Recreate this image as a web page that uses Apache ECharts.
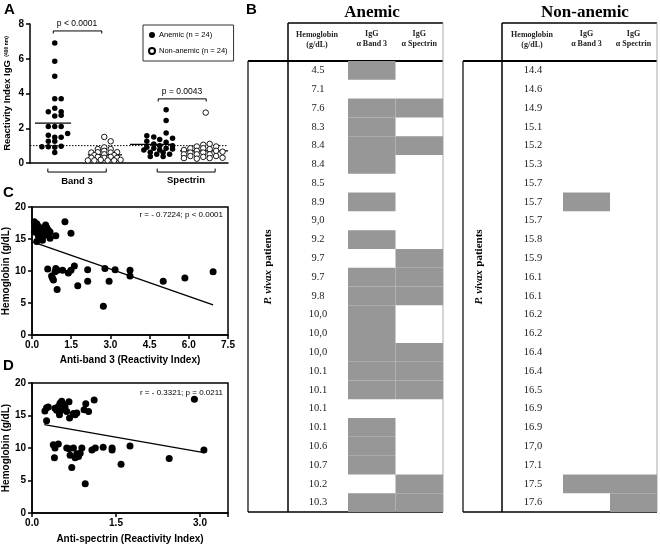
<!DOCTYPE html>
<html>
<head>
<meta charset="utf-8">
<script src="https://cdn.jsdelivr.net/npm/echarts@6/dist/echarts.min.js"></script>
<style>html,body{margin:0;padding:0;background:#fff}#main{width:660px;height:545px}</style>
</head>
<body>
<div id="main"></div>
<script>
// panel A - reactivity index, [jitter position, value]
var band3Anemic = [[0.5,6.9],[0.5,5.85],[0.5,5.0],[0.5,3.7],[0.63,3.7],[0.37,2.95],[0.5,3.15],[0.63,2.95],[0.5,2.7],[0.63,2.75],
  [0.37,2.1],[0.5,2.1],[0.63,2.1],[0.37,1.6],[0.5,1.48],[0.76,1.7],[0.63,1.48],[0.37,1.25],[0.5,1.25],
  [0.24,0.94],[0.37,0.94],[0.5,0.9],[0.63,0.96],[0.5,0.6]];
var band3NonAnemic = [[1.5,1.5],[1.63,1.25],[1.5,0.9],[1.37,0.8],[1.63,0.8],[1.5,0.7],[1.24,0.6],[1.37,0.62],[1.63,0.6],[1.76,0.62],
  [1.5,0.5],[1.3,0.45],[1.7,0.45],[1.24,0.3],[1.37,0.35],[1.5,0.3],[1.63,0.35],[1.76,0.3],[1.17,0.15],[1.3,0.15],
  [1.43,0.18],[1.57,0.15],[1.7,0.15],[1.83,0.18]];
var spectrinAnemic = [[2.75,3.06],[2.75,2.45],[2.75,1.72],[2.36,1.57],[2.5,1.5],[2.88,1.42],[2.62,1.35],[2.36,1.25],[2.75,1.2],[2.5,1.1],
  [2.62,1.0],[2.88,1.0],[2.36,0.9],[2.5,0.85],[2.75,0.85],[2.3,0.75],[2.62,0.75],[2.88,0.8],[2.43,0.62],[2.69,0.6],
  [2.56,0.5],[2.82,0.5],[2.43,0.38],[2.69,0.38]];
var spectrinNonAnemic = [[3.55,2.9],[3.63,1.1],[3.5,1.05],[3.37,0.95],[3.76,0.95],[3.24,0.85],[3.5,0.85],[3.63,0.8],[3.11,0.75],[3.37,0.7],
  [3.76,0.7],[3.24,0.6],[3.5,0.6],[3.89,0.65],[3.11,0.5],[3.37,0.5],[3.63,0.5],[3.24,0.4],[3.5,0.35],[3.76,0.4],
  [3.11,0.28],[3.37,0.25],[3.63,0.28],[3.89,0.3]];
// mean bars: [from, to, value]
var meanBars = [[0.1,0.83,2.3],[1.17,1.86,0.47],[2.02,2.89,1.07],[3.03,4.0,0.7]];
var cutoff = 1.0;
var groupNames = ['Band 3', 'Spectrin'];
var pValues = ['p < 0.0001', 'p = 0.0043'];

// panel C - Hb vs anti-band 3
var band3HbNonAnemic = [[0.09,17.7],[0.18,17.4],[0.12,16.9],[0.24,17.0],[0.31,16.7],[0.18,16.4],[0.37,16.1],[0.31,15.9],[0.43,16.4],[0.52,17.2],
  [0.47,16.8],[0.62,16.4],[0.69,16.1],[0.34,15.4],[0.69,15.1],[0.91,15.5],[0.18,14.6],[1.26,17.7],[1.49,15.9],[0.24,15.5],
  [0.40,14.8],[0.50,15.6],[0.09,16.1],[0.56,16.8]];
var band3HbAnemic = [[0.60,10.3],[0.75,9.2],[0.82,8.6],[0.91,10.4],[0.97,10.1],[0.88,9.9],[0.96,7.1],[1.17,10.1],[1.39,9.7],[1.49,10.1],
  [1.62,10.8],[1.75,7.7],[2.13,10.2],[2.13,8.4],[2.73,4.5],[2.79,10.4],[2.95,8.4],[3.18,10.2],[3.75,10.1],[3.75,9.2],
  [5.02,8.4],[5.85,8.9],[6.93,9.9],[0.78,8.9]];
var band3Fit = [[0.05,14.5],[6.93,4.7]];
var band3Stat = 'r = - 0.7224; p < 0.0001';

// panel D - Hb vs anti-spectrin
var spectrinHbNonAnemic = [[0.23,15.7],[0.26,16.2],[0.29,16.3],[0.26,14.2],[0.41,16.1],[0.44,15.8],[0.47,16.4],[0.50,16.9],[0.53,17.2],[0.56,16.7],
  [0.59,16.3],[0.54,15.9],[0.49,15.1],[0.62,15.6],[0.66,17.1],[0.67,14.6],[0.77,15.1],[0.80,15.4],[0.93,15.9],[0.96,16.8],
  [1.01,15.6],[1.11,17.4],[0.74,15.3],[2.90,17.5]];
var spectrinHbAnemic = [[0.38,10.5],[0.41,10.0],[0.47,10.6],[0.40,8.5],[0.66,9.9],[0.74,10.0],[0.68,8.9],[0.71,7.0],[0.77,8.5],[0.80,9.1],
  [0.83,8.7],[0.89,10.0],[0.95,4.5],[1.07,9.7],[1.13,10.0],[1.27,10.1],[1.43,10.0],[1.43,9.7],[1.59,7.5],[1.75,10.3],
  [2.45,8.4],[3.07,9.7],[0.86,9.2],[0.62,10.0]];
var spectrinFit = [[0.22,13.6],[3.07,9.3]];
var spectrinStat = 'r = - 0.3321; p = 0.0211';

// panel B - tables
var tableCols = ['IgG\nα Band 3', 'IgG\nα Spectrin'];
var anemicHb = ['4.5','7.1','7.6','8.3','8.4','8.4','8.5','8.9','9,0','9.2','9.7','9.7','9.8','10,0','10,0','10,0','10.1','10.1','10.1','10.1','10.6','10.7','10.2','10.3'];
var anemicBand3 = [1,0,1,1,1,1,0,1,0,1,0,1,1,1,1,1,1,1,0,1,1,1,0,1];
var anemicSpectrin = [0,0,1,0,1,0,0,0,0,0,1,1,1,0,0,1,1,1,0,0,0,0,1,1];
var nonAnemicHb = ['14.4','14.6','14.9','15.1','15.2','15.3','15.7','15.7','15.7','15.8','15.9','16.1','16.1','16.2','16.2','16.4','16.4','16.5','16.9','16.9','17,0','17.1','17.5','17.6'];
var nonAnemicBand3 = [0,0,0,0,0,0,0,1,0,0,0,0,0,0,0,0,0,0,0,0,0,0,1,0];
var nonAnemicSpectrin = [0,0,0,0,0,0,0,0,0,0,0,0,0,0,0,0,0,0,0,0,0,0,1,1];

var SANS = '"Liberation Sans", Arial, sans-serif';
var SERIF = '"Liberation Serif", "Times New Roman", serif';
var NAME_A = 'Anemic (n = 24)', NAME_N = 'Non-anemic (n = 24)';

function cells(b3, sp) {
    var out = [];
    b3.forEach(function (v, i) { if (v) out.push([0, i]); });
    sp.forEach(function (v, i) { if (v) out.push([1, i]); });
    return out;
}

function cellRender(params, api) {
    var p = api.coord([api.value(0), api.value(1)]);
    var s = api.size([1, 1]);
    return {type: 'rect', shape: {x: p[0] - s[0] / 2, y: p[1] - s[1] / 2, width: s[0], height: s[1]},
        style: {fill: '#979797'}};
}

function valAxis(grid, min, max, interval, extra) {
    var a = {
        type: 'value', gridIndex: grid, min: min, max: max, interval: interval,
        axisLine: {show: true, lineStyle: {color: '#000', width: 1.5}},
        axisTick: {show: true, length: 4, lineStyle: {color: '#000', width: 1.5}},
        axisLabel: {color: '#000', fontFamily: SANS, fontWeight: 'bold', fontSize: 10, margin: 6},
        splitLine: {show: false}
    };
    for (var k in extra) a[k] = extra[k];
    return a;
}

function dots(name, data, x, y, hollow, size) {
    return {
        type: 'scatter', name: name, xAxisIndex: x, yAxisIndex: y, data: data,
        symbolSize: size, silent: true,
        itemStyle: hollow ? {color: '#fff', borderColor: '#000', borderWidth: 0.9, opacity: 1}
            : {color: '#000', opacity: 1}
    };
}

function seg(data, x, y, style, clip) {
    return {
        type: 'line', xAxisIndex: x, yAxisIndex: y, data: data, symbol: 'none', silent: true,
        clip: clip !== false, lineStyle: style, z: 1
    };
}

function tableAxes(grid, hb) {
    return {
        x: {type: 'category', gridIndex: grid, data: tableCols, position: 'top',
            axisLine: {show: false}, axisTick: {show: false},
            axisLabel: {fontFamily: SERIF, fontWeight: 'bold', fontSize: 8, color: '#222', lineHeight: 10, margin: 12}},
        y: {type: 'category', gridIndex: grid, data: hb, inverse: true,
            axisLine: {show: false}, axisTick: {show: false},
            axisLabel: {fontFamily: SERIF, fontSize: 10.5, color: '#222', margin: 30, align: 'center'}}
    };
}

var tA = tableAxes(3, anemicHb), tN = tableAxes(4, nonAnemicHb);
var noLabel = {show: false};

var series = [
    dots(NAME_A, band3Anemic, 0, 0, false, 5.5),
    dots(NAME_N, band3NonAnemic, 0, 0, true, 5.5),
    dots(NAME_A, spectrinAnemic, 0, 0, false, 5.5),
    dots(NAME_N, spectrinNonAnemic, 0, 0, true, 5.5),
    seg([[0, cutoff], [4, cutoff]], 0, 0, {color: '#000', width: 1, type: [1.5, 1.5]}),
    seg([[0.47, 7.45], [0.47, 7.6], [1.45, 7.6], [1.45, 7.45]], 0, 0, {color: '#000', width: 1}),
    seg([[2.59, 3.54], [2.59, 3.69], [3.56, 3.69], [3.56, 3.54]], 0, 0, {color: '#000', width: 1}),
    seg([[0.36, -0.32], [0.36, -0.52], [1.54, -0.52], [1.54, -0.32]], 0, 0, {color: '#000', width: 1}, false),
    seg([[2.57, -0.32], [2.57, -0.52], [3.74, -0.52], [3.74, -0.32]], 0, 0, {color: '#000', width: 1}, false),
    dots(NAME_A, band3HbNonAnemic, 1, 1, false, 7),
    dots(NAME_A, band3HbAnemic, 1, 1, false, 7),
    seg(band3Fit, 1, 1, {color: '#000', width: 1.3}),
    dots(NAME_A, spectrinHbNonAnemic, 2, 2, false, 7),
    dots(NAME_A, spectrinHbAnemic, 2, 2, false, 7),
    seg(spectrinFit, 2, 2, {color: '#000', width: 1.3}),
    {type: 'custom', xAxisIndex: 3, yAxisIndex: 3, renderItem: cellRender, data: cells(anemicBand3, anemicSpectrin), silent: true},
    {type: 'custom', xAxisIndex: 4, yAxisIndex: 4, renderItem: cellRender, data: cells(nonAnemicBand3, nonAnemicSpectrin), silent: true}
];
meanBars.forEach(function (m) {
    series.push(seg([[m[0], m[2]], [m[1], m[2]]], 0, 0, {color: '#000', width: 1.2}));
});

function txt(text, x, y, font, align, extra) {
    var g = {type: 'text', x: x, y: y, style: {text: text, font: font, fill: '#000',
        align: align || 'center', verticalAlign: 'middle'}, silent: true};
    for (var k in extra) g[k] = extra[k];
    return g;
}
function ln(x1, y1, x2, y2, w, c) {
    return {type: 'line', shape: {x1: x1, y1: y1, x2: x2, y2: y2}, style: {stroke: c || '#000', lineWidth: w}, silent: true};
}
function frame(l, i, r) {
    return [ln(i, 23, r, 23, 1.5), ln(i, 23, i, 512, 1.5), ln(l, 61, r, 61, 2), ln(l, 61, l, 512, 1.2),
        ln(l, 512, r, 512, 1.5), ln(r, 23, r, 512, 1, '#aaa')];
}
function vivax(x) {
    return {type: 'text', x: x, y: 267, rotation: Math.PI / 2, silent: true,
        style: {text: '{i|P. vivax} {b|patients}', align: 'center', verticalAlign: 'middle',
            rich: {i: {font: 'italic bold 11px ' + SERIF, fill: '#000'}, b: {font: 'bold 11px ' + SERIF, fill: '#000'}}}};
}

var graphics = [
    txt('A', 4, 10, 'bold 15px ' + SANS, 'left'),
    txt('B', 246, 10, 'bold 15px ' + SANS, 'left'),
    txt('C', 3, 193, 'bold 15px ' + SANS, 'left'),
    txt('D', 3, 366, 'bold 15px ' + SANS, 'left'),
    txt(pValues[0], 77, 24, '8.5px ' + SANS),
    txt(pValues[1], 182, 92, '8.5px ' + SANS),
    txt(groupNames[0], 77, 181, 'bold 9.5px ' + SANS),
    txt(groupNames[1], 186, 180, 'bold 9.5px ' + SANS),
    txt(band3Stat, 223, 215, '8px ' + SANS, 'right'),
    txt(spectrinStat, 223, 393, '8px ' + SANS, 'right'),
    txt('Anemic', 372, 13, 'bold 17px ' + SERIF),
    txt('Non-anemic', 585, 13, 'bold 17px ' + SERIF),
    txt('Hemoglobin\n(g/dL)', 317, 40, 'bold 8px ' + SERIF, 'center', {style: {text: 'Hemoglobin\n(g/dL)', font: 'bold 8px ' + SERIF, fill: '#222', align: 'center', verticalAlign: 'middle', lineHeight: 10}}),
    txt('Hemoglobin\n(g/dL)', 532, 40, 'bold 8px ' + SERIF, 'center', {style: {text: 'Hemoglobin\n(g/dL)', font: 'bold 8px ' + SERIF, fill: '#222', align: 'center', verticalAlign: 'middle', lineHeight: 10}}),
    vivax(268),
    vivax(479)
].concat(frame(248, 288, 443)).concat(frame(463, 502, 657));

var myChart = echarts.init(document.getElementById('main'), null, {renderer: 'canvas'});

var option = {
    backgroundColor: '#fff',
    animation: false,
    textStyle: {fontFamily: SANS},
    grid: [
        {left: 30, top: 24, width: 198, height: 139},
        {left: 32, top: 207, width: 196, height: 128, show: true, borderColor: '#000', borderWidth: 1.5},
        {left: 32, top: 383, width: 196, height: 130, show: true, borderColor: '#000', borderWidth: 1.5},
        {left: 348, top: 61, width: 95, height: 451},
        {left: 563, top: 61, width: 94, height: 451}
    ],
    legend: {
        data: [NAME_A, NAME_N], left: 143, top: 25, orient: 'vertical',
        padding: [6, 6, 6, 5], itemGap: 8, itemWidth: 6, itemHeight: 6, icon: 'circle',
        borderColor: '#333', borderWidth: 1, selectedMode: false,
        textStyle: {fontFamily: SANS, fontSize: 7.5, color: '#000', padding: [0, 0, 0, -1]}
    },
    xAxis: [
        valAxis(0, 0, 4, 1, {axisTick: noLabel, axisLabel: noLabel}),
        valAxis(1, 0, 7.5, 1.5, {name: 'Anti-band 3 (Reactivity Index)', nameLocation: 'middle', nameGap: 20,
            nameTextStyle: {fontFamily: SANS, fontWeight: 'bold', fontSize: 10, color: '#000'},
            axisLabel: {color: '#000', fontFamily: SANS, fontWeight: 'bold', fontSize: 10, margin: 5,
                formatter: function (v) { return v.toFixed(1); }}}),
        valAxis(2, 0, 3.5, 1.5, {name: 'Anti-spectrin (Reactivity Index)', nameLocation: 'middle', nameGap: 21,
            nameTextStyle: {fontFamily: SANS, fontWeight: 'bold', fontSize: 10, color: '#000'},
            axisLabel: {color: '#000', fontFamily: SANS, fontWeight: 'bold', fontSize: 10, margin: 5,
                formatter: function (v) { return v === 3.5 ? '' : v.toFixed(1); }}}),
        tA.x, tN.x
    ],
    yAxis: [
        valAxis(0, 0, 8, 2, {name: '{a|Reactivity Index IgG} {s|(490 nm)}', nameLocation: 'middle', nameGap: 17,
            nameTextStyle: {rich: {a: {fontFamily: SANS, fontWeight: 'bold', fontSize: 9.5, color: '#000'},
                s: {fontFamily: SANS, fontWeight: 'bold', fontSize: 5, color: '#000'}}}}),
        valAxis(1, 0, 20, 5, {name: 'Hemoglobin (g/dL)', nameLocation: 'middle', nameGap: 18,
            nameTextStyle: {fontFamily: SANS, fontWeight: 'bold', fontSize: 10, color: '#000'}}),
        valAxis(2, 0, 20, 5, {name: 'Hemoglobin (g/dL)', nameLocation: 'middle', nameGap: 18,
            nameTextStyle: {fontFamily: SANS, fontWeight: 'bold', fontSize: 10, color: '#000'}}),
        tA.y, tN.y
    ],
    series: series,
    graphic: graphics
};

myChart.setOption(option);
</script>
</body>
</html>
